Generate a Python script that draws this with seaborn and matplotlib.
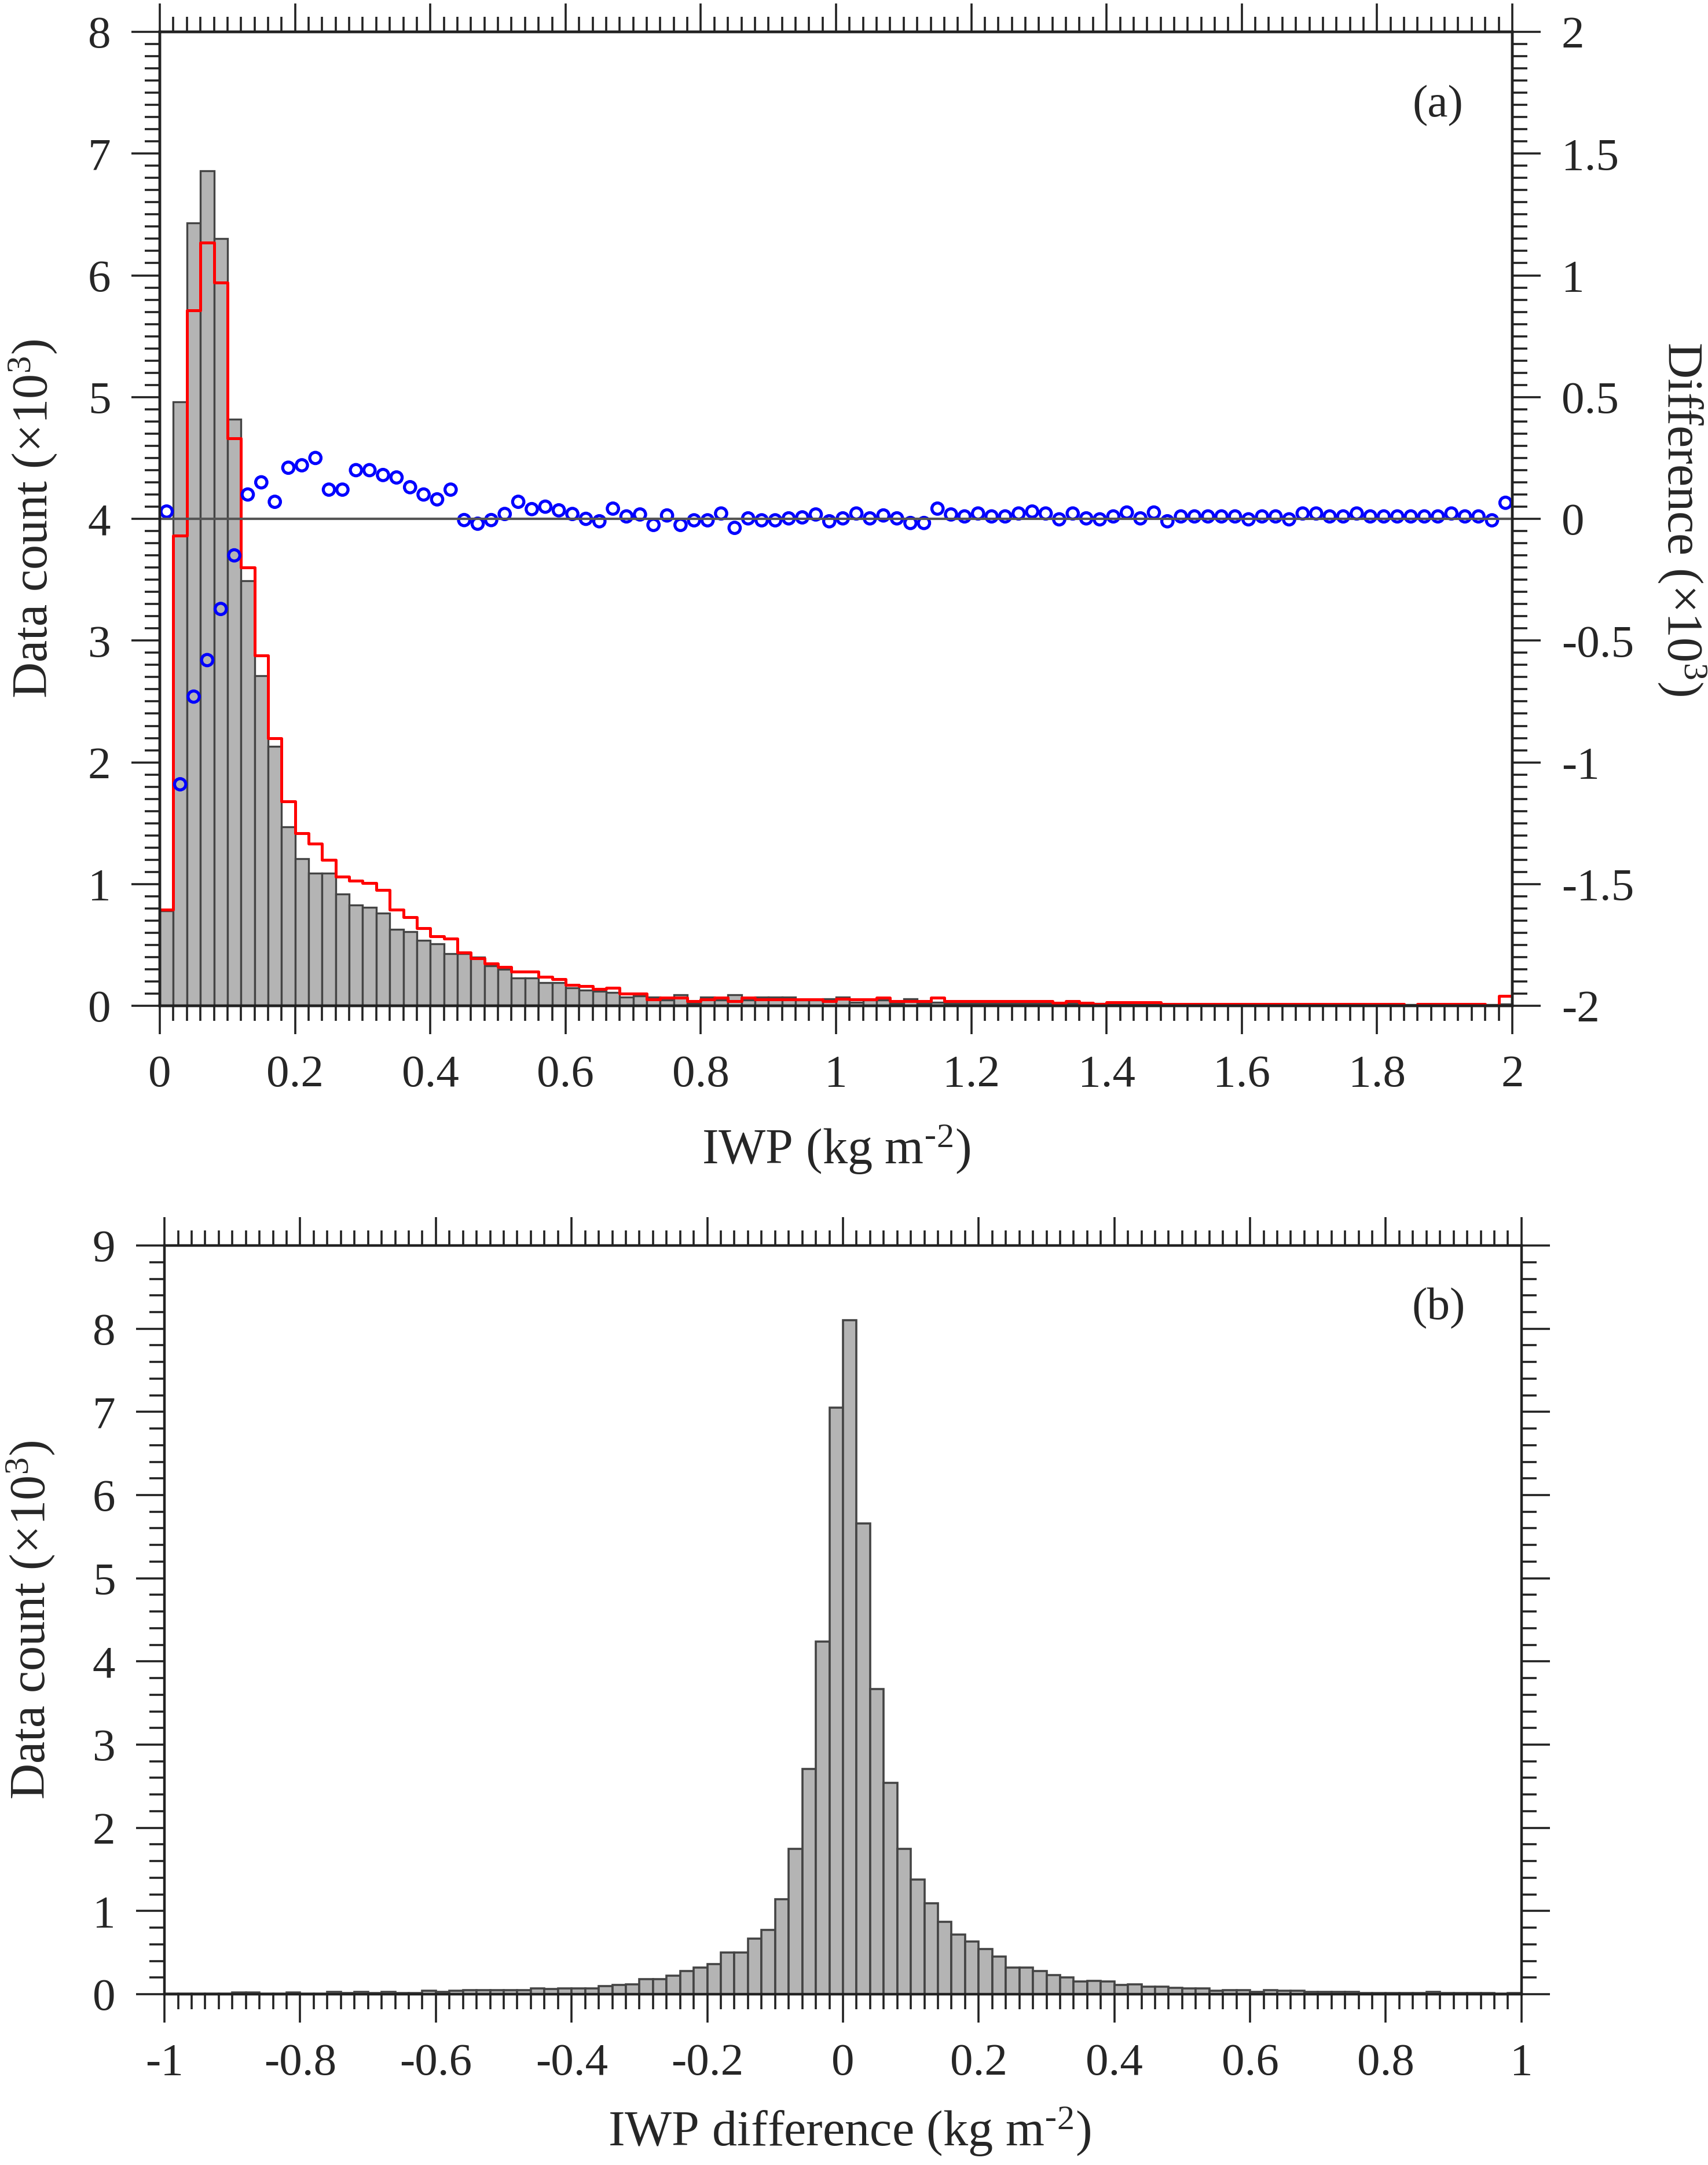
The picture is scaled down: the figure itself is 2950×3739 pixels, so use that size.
import numpy as np
import pandas as pd
import matplotlib
matplotlib.use("Agg")
import matplotlib.pyplot as plt
from matplotlib.ticker import MultipleLocator, FuncFormatter
import seaborn as sns

# ---- panel (a): IWP histograms, 0.02 kg m-2 bins from 0 to 2 (x10^3 counts)
iwp_edges = np.linspace(0, 2, 101)
iwp_centers = (iwp_edges[:-1] + iwp_edges[1:]) / 2

count_gray = [
    0.78, 4.96, 6.43, 6.86, 6.30, 4.82, 3.49, 2.71, 2.13, 1.47,
    1.21, 1.09, 1.09, 0.92, 0.83, 0.81, 0.76, 0.63, 0.61, 0.54,
    0.51, 0.43, 0.43, 0.40, 0.33, 0.30, 0.23, 0.23, 0.19, 0.19,
    0.15, 0.13, 0.12, 0.11, 0.07, 0.08, 0.07, 0.05, 0.09, 0.02,
    0.07, 0.05, 0.09, 0.05, 0.07, 0.07, 0.07, 0.05, 0.05, 0.06,
    0.07, 0.03, 0.05, 0.05, 0.02, 0.06, 0.02, 0.03, 0.02, 0.02,
    0.02, 0.02, 0.02, 0.02, 0.02, 0.02, 0.02, 0.02, 0.02, 0.02,
    0.02, 0.02, 0.02, 0.02, 0.01, 0.01, 0.01, 0.01, 0.01, 0.01,
    0.01, 0.01, 0.01, 0.01, 0.01, 0.01, 0.01, 0.01, 0.01, 0.01,
    0.01, 0.01, 0.01, 0.01, 0.01, 0.01, 0.01, 0.01, 0.01, 0.015,
]

count_red = [
    0.79, 3.86, 5.71, 6.27, 5.94, 4.66, 3.60, 2.88, 2.20, 1.68,
    1.42, 1.33, 1.20, 1.06, 1.03, 1.01, 0.95, 0.79, 0.73, 0.64,
    0.57, 0.55, 0.44, 0.39, 0.35, 0.32, 0.28, 0.28, 0.24, 0.22,
    0.17, 0.16, 0.14, 0.15, 0.10, 0.10, 0.055, 0.068, 0.068, 0.04,
    0.055, 0.068, 0.04, 0.068, 0.055, 0.055, 0.055, 0.052, 0.052, 0.04,
    0.059, 0.055, 0.055, 0.068, 0.04, 0.04, 0.04, 0.068, 0.04, 0.04,
    0.04, 0.04, 0.04, 0.04, 0.04, 0.04, 0.024, 0.04, 0.024, 0.016,
    0.03, 0.03, 0.03, 0.03, 0.013, 0.013, 0.013, 0.013, 0.013, 0.013,
    0.013, 0.013, 0.013, 0.013, 0.013, 0.013, 0.013, 0.013, 0.013, 0.013,
    0.013, 0.013, 0.002, 0.013, 0.013, 0.013, 0.013, 0.013, 0.002, 0.08,
]

diff_blue = [
    0.03, -1.09, -0.73, -0.58, -0.37, -0.15, 0.10, 0.15, 0.07, 0.21,
    0.22, 0.25, 0.12, 0.12, 0.20, 0.20, 0.18, 0.17, 0.13, 0.10,
    0.08, 0.12, -0.005, -0.02, -0.005, 0.02, 0.07, 0.04, 0.05, 0.035,
    0.02, 0.0, -0.01, 0.042, 0.01, 0.018, -0.025, 0.014, -0.025, -0.006,
    -0.006, 0.022, -0.037, 0.002, -0.006, -0.006, 0.002, 0.006, 0.018, -0.01,
    0.002, 0.022, 0.002, 0.014, 0.002, -0.017, -0.017, 0.042, 0.018, 0.01,
    0.022, 0.01, 0.01, 0.022, 0.03, 0.022, -0.002, 0.022, 0.002, -0.002,
    0.01, 0.026, 0.002, 0.026, -0.01, 0.01, 0.01, 0.01, 0.01, 0.01,
    -0.002, 0.01, 0.01, -0.002, 0.022, 0.022, 0.01, 0.01, 0.022, 0.01,
    0.01, 0.01, 0.01, 0.01, 0.01, 0.022, 0.01, 0.01, -0.006, 0.066,
]

# ---- panel (b): IWP difference histogram, 0.02 bins from -1 to 1
dif_edges = np.linspace(-1, 1, 101)
dif_centers = (dif_edges[:-1] + dif_edges[1:]) / 2

count_dif = [
    0.005, 0.005, 0.005, 0.005, 0.005, 0.02, 0.02, 0.005, 0.005, 0.02,
    0.005, 0.005, 0.03, 0.015, 0.03, 0.015, 0.03, 0.015, 0.015, 0.04,
    0.025, 0.04, 0.05, 0.05, 0.05, 0.05, 0.05, 0.07, 0.06, 0.07,
    0.07, 0.07, 0.10, 0.11, 0.12, 0.18, 0.18, 0.22, 0.28, 0.32,
    0.36, 0.50, 0.50, 0.67, 0.77, 1.14, 1.75, 2.71, 4.24, 7.05,
    8.10, 5.66, 3.67, 2.54, 1.75, 1.38, 1.09, 0.87, 0.72, 0.63,
    0.54, 0.45, 0.32, 0.32, 0.28, 0.23, 0.20, 0.15, 0.16, 0.15,
    0.11, 0.12, 0.09, 0.09, 0.08, 0.07, 0.07, 0.04, 0.05, 0.05,
    0.03, 0.05, 0.04, 0.04, 0.025, 0.025, 0.025, 0.025, 0.015, 0.015,
    0.015, 0.015, 0.015, 0.025, 0.015, 0.015, 0.015, 0.015, 0.005, 0.015,
]

df_a = pd.DataFrame({"iwp": iwp_centers, "gray": count_gray,
                     "red": count_red, "diff": diff_blue})
df_b = pd.DataFrame({"dif": dif_centers, "count": count_dif})

sns.set_style("ticks")
plt.rcParams["font.family"] = ["Liberation Serif", "DejaVu Serif"]
plt.rcParams["axes.unicode_minus"] = False
plt.rcParams["mathtext.default"] = "regular"

TICK_FS = 57
LABEL_FS = 62
AX_COL = "#222222"
BAR_FACE = "#b4b4b4"
BAR_EDGE = "#444444"


def fmt(v, pos):
    v = round(v, 3)
    if v == 0:
        return "0"
    return f"{v:g}"


def style_axis(ax):
    for s in ax.spines.values():
        s.set_linewidth(3.2)
        s.set_color(AX_COL)
    ax.tick_params(which="major", direction="out", length=35, width=2.6,
                   color=AX_COL, labelsize=TICK_FS, pad=26)
    ax.tick_params(which="minor", direction="out", length=19, width=2.6,
                   color=AX_COL)


fig = plt.figure(figsize=(29.5, 37.39), dpi=100)
ax_a = fig.add_axes([0.0936, 0.5354, 0.7918, 0.4499])
ax_b = fig.add_axes([0.0963, 0.0789, 0.7945, 0.3458])

# panel (a)
sns.histplot(data=df_a, x="iwp", weights="gray", bins=list(iwp_edges),
             ax=ax_a, color=BAR_FACE, edgecolor=BAR_EDGE, linewidth=2.4,
             alpha=1)
sns.histplot(data=df_a, x="iwp", weights="red", bins=list(iwp_edges),
             ax=ax_a, element="step", fill=False, color="red", linewidth=3.6)
ax_a.set_xlim(0, 2)
ax_a.set_ylim(0, 8)
ax_a.xaxis.set_major_locator(MultipleLocator(0.2))
ax_a.xaxis.set_minor_locator(MultipleLocator(0.02))
ax_a.yaxis.set_major_locator(MultipleLocator(1))
ax_a.yaxis.set_minor_locator(MultipleLocator(0.1))
ax_a.xaxis.set_major_formatter(FuncFormatter(fmt))
ax_a.yaxis.set_major_formatter(FuncFormatter(fmt))
style_axis(ax_a)
ax_a.tick_params(which="both", top=True, right=False)
ax_a.set_xlabel("IWP (kg m$^{\\text{-}2}$)", fontsize=LABEL_FS)
ax_a.set_ylabel("Data count (\u00d710$^{3}$)", fontsize=LABEL_FS)
ax_a.xaxis.set_label_coords(0.5, -0.12)
ax_a.yaxis.set_label_coords(-0.0745, 0.5)
ax_a.text(0.945, 0.924, "(a)", transform=ax_a.transAxes, ha="center",
          va="center", fontsize=TICK_FS)

ax_d = ax_a.twinx()
ax_d.axhline(0, color="#555555", linewidth=3)
sns.scatterplot(data=df_a, x="iwp", y="diff", ax=ax_d, marker="o", s=14 ** 2,
                facecolors="none", edgecolors="blue", linewidths=3.8)
ax_d.set_ylim(-2, 2)
ax_d.yaxis.set_major_locator(MultipleLocator(0.5))
ax_d.yaxis.set_minor_locator(MultipleLocator(0.05))
ax_d.yaxis.set_major_formatter(FuncFormatter(fmt))
style_axis(ax_d)
ax_d.tick_params(which="both", left=False, right=True)
ax_d.set_ylabel("Difference (\u00d710$^{3}$)", fontsize=LABEL_FS,
                rotation=270, va="bottom")
ax_d.yaxis.set_label_coords(1.106, 0.5)

# panel (b)
sns.histplot(data=df_b, x="dif", weights="count", bins=list(dif_edges),
             ax=ax_b, color=BAR_FACE, edgecolor=BAR_EDGE, linewidth=2.6,
             alpha=1)
ax_b.set_xlim(-1, 1)
ax_b.set_ylim(0, 9)
ax_b.xaxis.set_major_locator(MultipleLocator(0.2))
ax_b.xaxis.set_minor_locator(MultipleLocator(0.02))
ax_b.yaxis.set_major_locator(MultipleLocator(1))
ax_b.yaxis.set_minor_locator(MultipleLocator(0.2))
ax_b.xaxis.set_major_formatter(FuncFormatter(fmt))
ax_b.yaxis.set_major_formatter(FuncFormatter(fmt))
style_axis(ax_b)
ax_b.tick_params(which="both", top=True, right=True)
ax_b.set_xlabel("IWP difference (kg m$^{\\text{-}2}$)", fontsize=LABEL_FS)
ax_b.set_ylabel("Data count (\u00d710$^{3}$)", fontsize=LABEL_FS)
ax_b.xaxis.set_label_coords(0.505, -0.148)
ax_b.yaxis.set_label_coords(-0.0795, 0.5)
ax_b.text(0.939, 0.916, "(b)", transform=ax_b.transAxes, ha="center",
          va="center", fontsize=TICK_FS)

fig.savefig("out.png", dpi=100, facecolor="white")
